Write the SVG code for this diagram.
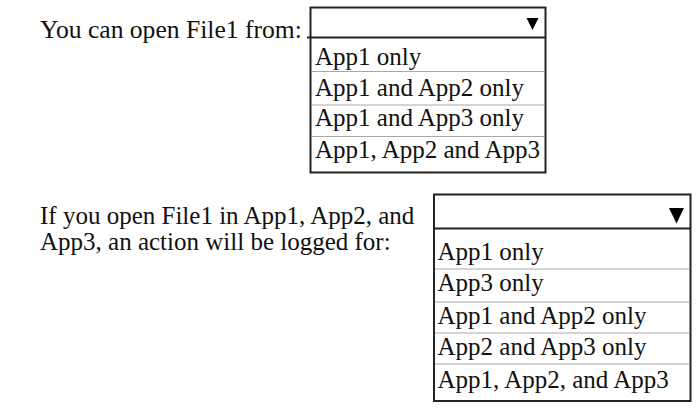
<svg xmlns="http://www.w3.org/2000/svg" width="696" height="409" viewBox="0 0 696 409">
<style>
text{font-family:"Liberation Serif","Times New Roman",serif;font-size:25px;fill:#111}
.big{font-size:25.6px}
.box{fill:#fff;stroke:#222;stroke-width:2}
.hdr{stroke:#222;stroke-width:2;fill:none}
.sep{stroke:#a8a8a8;stroke-width:1;fill:none}
.tri{fill:#000}
</style>
<rect width="696" height="409" fill="#fff"/>
<g id="q1">
<text class="big" x="40" y="37.5">You can open File1 from:</text>
</g>
<g id="dropdown1">
<rect class="box" x="310.5" y="7.5" width="235" height="165"/>
<line class="hdr" x1="307" y1="37.5" x2="545.5" y2="37.5"/>
<polygon class="tri" points="526.5,18 538.5,18 532.5,30"/>
<line class="sep" x1="311" y1="71.5" x2="545" y2="71.5"/>
<line class="sep" x1="311" y1="105" x2="545" y2="105"/>
<line class="sep" x1="311" y1="136.5" x2="545" y2="136.5"/>
<text x="315" y="64.5">App1 only</text>
<text x="315" y="95.5">App1 and App2 only</text>
<text x="315" y="126">App1 and App3 only</text>
<text x="315" y="157.5">App1, App2 and App3</text>
</g>
<g id="q2">
<text x="40" y="224">If you open File1 in App1, App2, and</text>
<text x="40" y="250">App3, an action will be logged for:</text>
</g>
<g id="dropdown2">
<rect class="box" x="434" y="194.5" width="256.5" height="206.5"/>
<line class="hdr" x1="434" y1="228.5" x2="690.5" y2="228.5"/>
<polygon class="tri" points="669,208 684,208 676.5,223.5"/>
<line class="sep" x1="435" y1="269" x2="690" y2="269"/>
<line class="sep" x1="435" y1="302" x2="690" y2="302"/>
<line class="sep" x1="435" y1="333" x2="690" y2="333"/>
<line class="sep" x1="435" y1="364" x2="690" y2="364"/>
<text x="437.5" y="260">App1 only</text>
<text x="437.5" y="291">App3 only</text>
<text x="437.5" y="323.5">App1 and App2 only</text>
<text x="437.5" y="355">App2 and App3 only</text>
<text x="437.5" y="388">App1, App2, and App3</text>
</g>
<g id="connectors"/>
</svg>
